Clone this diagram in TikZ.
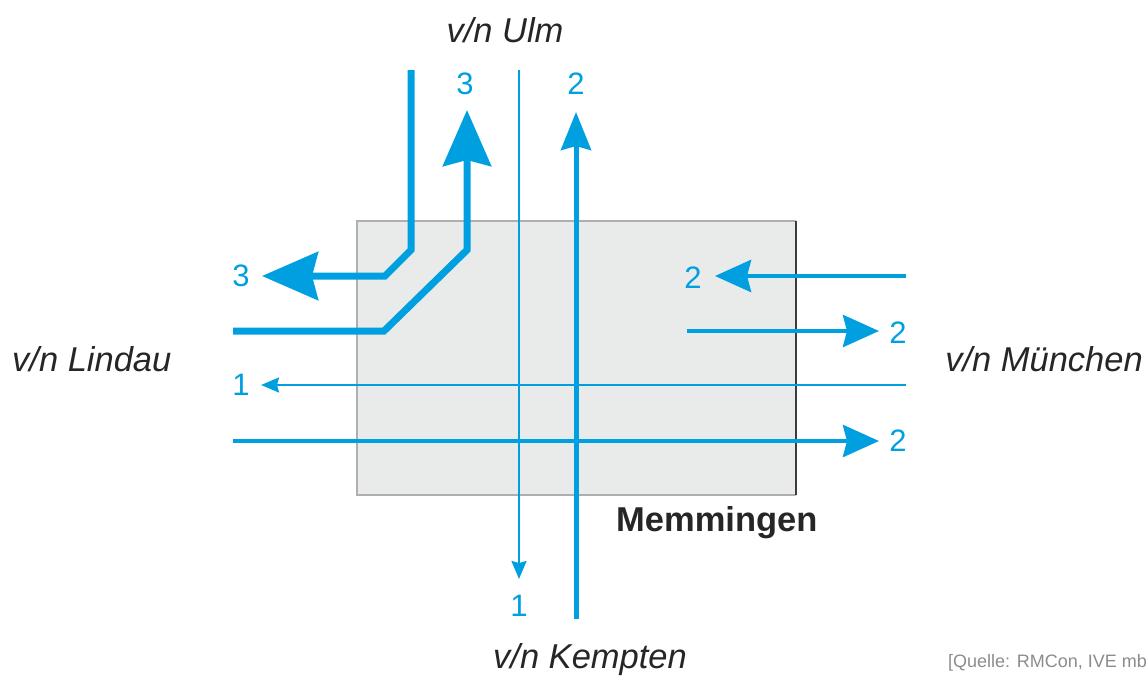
\documentclass[tikz,border=0pt]{standalone}
\usepackage{fontspec}
\setmainfont{Liberation Sans}
\usetikzlibrary{arrows.meta}
\definecolor{flow}{RGB}{0,160,224}
\definecolor{boxfill}{RGB}{233,234,234}
\definecolor{boxedge}{RGB}{175,175,175}
\definecolor{boxedgedark}{RGB}{60,60,60}
\definecolor{srcgray}{RGB}{140,140,140}
\begin{document}
\begin{tikzpicture}[x=1pt,y=-1pt,
  thickflow/.style={draw=flow, line width=7pt, line join=miter,
    -{Stealth[length=56pt,width=48pt,inset=6pt]}},
  midflow/.style={draw=flow, line width=4.5pt,
    -{Stealth[length=36pt,width=32pt,inset=4pt]}},
  vertflow/.style={draw=flow, line width=5pt,
    -{Stealth[length=38pt,width=30pt,inset=4pt]}},
  thinflow/.style={draw=flow, line width=2.2pt,
    -{Stealth[length=18pt,width=15pt,inset=2pt]}},
  place/.style={font=\fontsize{34.5}{38}\selectfont\itshape, text=black!85, inner sep=0pt},
  num/.style={font=\fontsize{31}{34}\selectfont, text=flow, inner sep=0pt},
  town/.style={font=\fontsize{34.5}{38}\selectfont\bfseries, text=black!85, inner sep=0pt},
]
\useasboundingbox (0,0) rectangle (1147,675);

% town area
\fill[boxfill] (357,221) rectangle (796,495);
\draw[boxedge, line width=1.2pt] (796,221) -- (357,221) -- (357,495) -- (796,495);
\draw[boxedgedark, line width=1.2pt] (796,221) -- (796,495);

% coordinates
\coordinate (u3s) at (411,70);
\coordinate (u3b) at (411,250);
\coordinate (u3c) at (385,276);
\coordinate (u3e) at (262,276);
\coordinate (l3s) at (233,331);
\coordinate (l3c) at (384,331);
\coordinate (l3b) at (467,250);
\coordinate (l3e) at (467,110);
\coordinate (u1s) at (519,70);
\coordinate (u1e) at (519,579);
\coordinate (k2s) at (576,619);
\coordinate (k2e) at (576,112);
\coordinate (m2s) at (906,276);
\coordinate (m2e) at (715,276);
\coordinate (i2s) at (687,331);
\coordinate (i2e) at (879,331);
\coordinate (m1s) at (906,385);
\coordinate (m1e) at (261,385);
\coordinate (l2s) at (233,441);
\coordinate (l2e) at (879,441);

% flows
\draw[thickflow] (u3s) -- (u3b) -- (u3c) -- (u3e);
\draw[thickflow] (l3s) -- (l3c) -- (l3b) -- (l3e);
\draw[midflow] (m2s) -- (m2e);
\draw[midflow] (i2s) -- (i2e);
\draw[thinflow] (m1s) -- (m1e);
\draw[midflow] (l2s) -- (l2e);
\draw[vertflow] (k2s) -- (k2e);
\draw[thinflow] (u1s) -- (u1e);

% numbers
\node[num] (n3w) at (241,276) {3};
\node[num] (n3n) at (465,84) {3};
\node[num] (n2n) at (576,84) {2};
\node[num] (n1s) at (519,606) {1};
\node[num] (n2w) at (693,278) {2};
\node[num] (n2e) at (898,333) {2};
\node[num] (n1w) at (241,385) {1};
\node[num] (n2se) at (898,441) {2};

% place names
\node[place] (ulm) at (505,30) {v/n Ulm};
\node[place, anchor=west] (lindau) at (12,359) {v/n Lindau};
\node[place, anchor=east] (muenchen) at (1143,359) {v/n München};
\node[place] (kempten) at (590,660) {v/n Kempten};
\node[town, anchor=west] (memm) at (616,523) {Memmingen};
\node[font=\fontsize{18}{20}\selectfont, text=srcgray, anchor=west, inner sep=0pt] (src) at (948,663) {[Quelle: RMCon, IVE mb};
\end{tikzpicture}
\end{document}
